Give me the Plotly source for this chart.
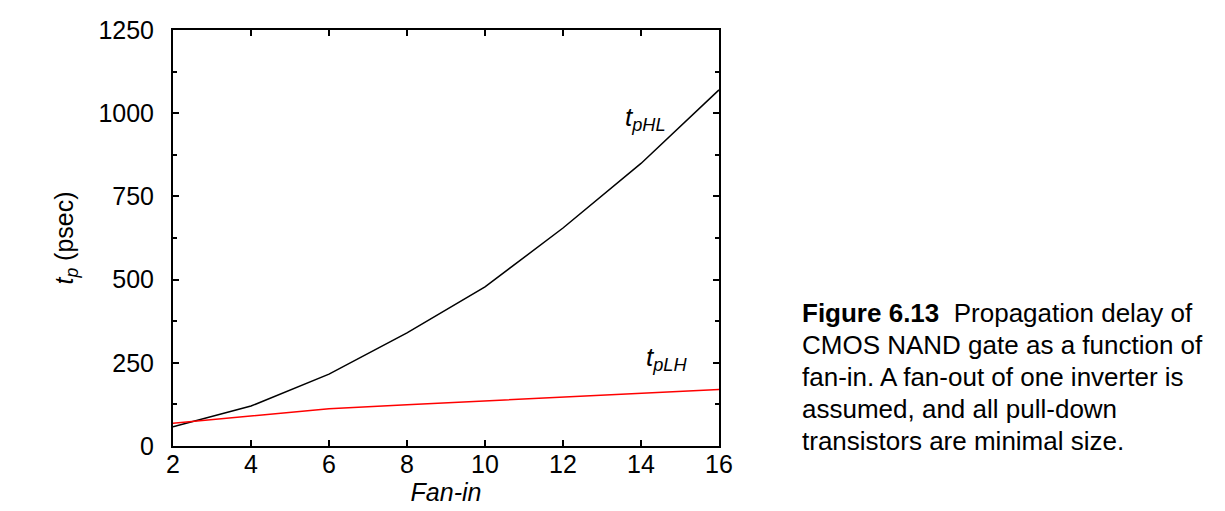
import plotly.graph_objects as go

fan_in = [2, 4, 6, 8, 10, 12, 14, 16]
tp_hl = [58, 120, 216, 340, 478, 655, 849, 1070]
tp_lh = [68, 90, 112, 124, 136, 148, 159, 170]

y_ticks = [0, 250, 500, 750, 1000, 1250]
x_ticks = [2, 4, 6, 8, 10, 12, 14, 16]

caption_lines = [
    "<b>Figure 6.13</b>  Propagation delay of",
    "CMOS NAND gate as a function of",
    "fan-in. A fan-out of one inverter is",
    "assumed, and all pull-down",
    "transistors are minimal size.",
]

FONT = "Liberation Sans, Arial, sans-serif"

fig = go.Figure()
fig.add_trace(go.Scatter(x=fan_in, y=tp_hl, mode="lines",
                         line=dict(color="black", width=1.5), showlegend=False))
fig.add_trace(go.Scatter(x=fan_in, y=tp_lh, mode="lines",
                         line=dict(color="#ff0000", width=1.5), showlegend=False))

axis_common = dict(showgrid=False, zeroline=False, showline=True, linecolor="black",
                   linewidth=2, mirror="ticks", ticks="inside", ticklen=6,
                   tickwidth=1.5, tickcolor="black", automargin=False,
                   tickfont=dict(family=FONT, size=25, color="black"))

fig.update_xaxes(range=[2, 16], tickvals=x_ticks, ticklabelstandoff=-5,
                 title=dict(text="<i>Fan-in</i>", font=dict(family=FONT, size=25, color="black"),
                            standoff=2),
                 **axis_common)
fig.update_yaxes(range=[0, 1250], tickvals=y_ticks, ticklabelstandoff=12,
                 minor=dict(dtick=125, ticks="inside", ticklen=4, tickwidth=1.5, tickcolor="black"),
                 title=dict(text="<i>t</i><sub><i>p</i></sub> (psec)",
                            font=dict(family=FONT, size=25, color="black"), standoff=18),
                 **axis_common)

fig.add_annotation(x=14.12, y=985, text="<i>t</i><sub><i>pHL</i></sub>", showarrow=False,
                   font=dict(family=FONT, size=26, color="black"))
fig.add_annotation(x=14.65, y=264, text="<i>t</i><sub><i>pLH</i></sub>", showarrow=False,
                   font=dict(family=FONT, size=26, color="black"))

for i, line in enumerate(caption_lines):
    yc = 313 + 32 * i
    fig.add_annotation(xref="paper", yref="paper", x=(800 - 173) / 546, y=(446 - yc) / 416,
                       xanchor="left", yanchor="middle", align="left", text=line,
                       showarrow=False, font=dict(family=FONT, size=26, color="black"))

fig.update_layout(width=1225, height=511, plot_bgcolor="white", paper_bgcolor="white",
                  margin=dict(l=173, r=506, t=30, b=65))

fig.write_html("out.html")
